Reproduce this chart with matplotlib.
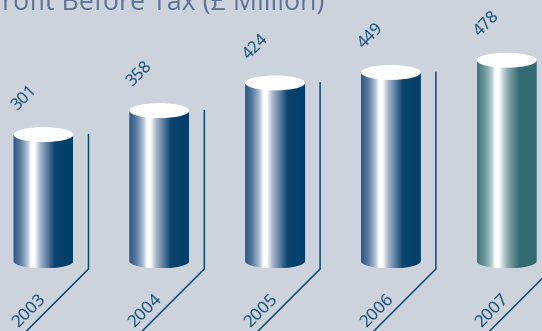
import numpy as np
import matplotlib
matplotlib.use("Agg")
import matplotlib.pyplot as plt
from matplotlib.patches import Ellipse, PathPatch
from matplotlib.path import Path
from matplotlib.colors import LinearSegmentedColormap

# ---- data ----
years = ["2003", "2004", "2005", "2006", "2007"]
profit = [301, 358, 424, 449, 478]
title = "Profit Before Tax (£ Million)"

BG = "#cdd3dd"
INK = "#0d4a70"
TITLE_COL = "#5f7596"

navy = LinearSegmentedColormap.from_list("navy", [
    (0.00, "#2a5580"), (0.12, "#5a7ca0"), (0.24, "#b0c2d6"),
    (0.30, "#ffffff"), (0.36, "#ffffff"), (0.45, "#a8b8cc"),
    (0.55, "#6a88a8"), (0.70, "#0a436c"), (1.00, "#00406a")])
teal = LinearSegmentedColormap.from_list("teal", [
    (0.00, "#3e7379"), (0.12, "#6a9599"), (0.24, "#b3cbcd"),
    (0.30, "#ffffff"), (0.36, "#ffffff"), (0.45, "#b0c6c8"),
    (0.55, "#72989c"), (0.70, "#336b72"), (1.00, "#326a71")])

W, H, DPI = 542, 331, 100
fig = plt.figure(figsize=(W / DPI, H / DPI), dpi=DPI, facecolor=BG)
ax = fig.add_axes([0, 0, 1, 1])
ax.set_facecolor(BG)
ax.axis("off")

# pixel scale of the axes
px_x = 115.8          # pixels per category step
px_y = 0.42           # pixels per £m
x0 = -43.5 / px_x
ax.set_xlim(x0, x0 + W / px_x)
base_px = 261
ax.set_ylim((base_px - H) / px_y, base_px / px_y)

hw = 30 / px_x        # cylinder half width
eh = 7.5 / px_y       # ellipse half height
grad = np.linspace(0, 1, 256)[None, :]

for i, (yr, v) in enumerate(zip(years, profit)):
    cmap = teal if i == len(years) - 1 else navy
    t = np.linspace(0, np.pi, 60)
    verts = np.vstack([
        [[i - hw, v], [i - hw, 0]],
        np.column_stack([i - hw * np.cos(t), -eh * np.sin(t)]),
        [[i + hw, v], [i - hw, v]],
    ])
    clip = PathPatch(Path(verts, closed=True), transform=ax.transData,
                     facecolor="none", edgecolor="none")
    ax.add_patch(clip)
    im = ax.imshow(grad, cmap=cmap, aspect="auto",
                   extent=[i - hw, i + hw, -eh, v], interpolation="bilinear",
                   zorder=2)
    im.set_clip_path(clip)
    ax.add_patch(Ellipse((i, v), 2 * hw, 2 * eh, facecolor="white",
                         edgecolor="none", zorder=3))

    # floor guide line: vertical then diagonal
    lx = i + 45 / px_x
    ly = -8 / px_y
    ax.plot([lx, lx, lx - 100 / px_x], [v, ly, ly - 100 / px_y],
            color=INK, lw=1.1, solid_joinstyle="miter", zorder=1)

    ax.annotate(str(v), (i, v), xytext=(-14, 26), textcoords="offset points",
                rotation=45, ha="center", va="center", color=INK,
                fontsize=12, family="Open Sans", rotation_mode="anchor")
    ax.annotate(yr, (i, 0), xytext=(-10, -36), textcoords="offset points",
                rotation=45, ha="center", va="center", color=INK,
                fontsize=12.5, family="Open Sans", rotation_mode="anchor")

fig.text(-14 / W, 1 - 10 / H, title, color=TITLE_COL, fontsize=19.3,
         family="Open Sans", ha="left", va="baseline")

fig.savefig("out.png", dpi=DPI, facecolor=BG)
